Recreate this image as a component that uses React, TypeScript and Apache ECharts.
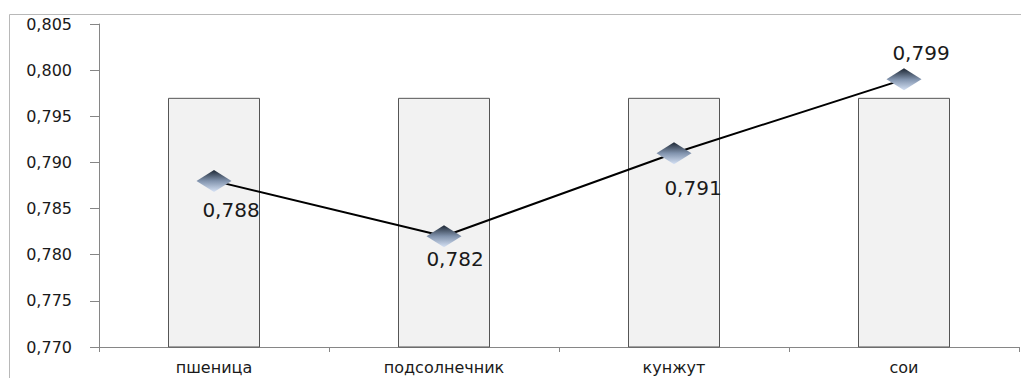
import React, { useEffect, useRef } from "react";
import * as echarts from "echarts";

const categories = ["пшеница", "подсолнечник", "кунжут", "сои"];
const barValues = [0.797, 0.797, 0.797, 0.797];
const lineValues = [0.788, 0.782, 0.791, 0.799];
const yMin = 0.77;
const yMax = 0.805;
const yStep = 0.005;

const labelPos = ["bottom", "bottom", "bottom", "top"];
const labelOffsets = [[17, 3], [11, -3], [19, 9], [17, 0]];

const fmt = (v: number) => v.toFixed(3).replace(".", ",");

export default function App() {
  const ref = useRef<HTMLDivElement>(null);
  useEffect(() => {
    if (!ref.current) return;
    const chart = echarts.init(ref.current, undefined, { renderer: "svg" });
    const font = "DejaVu Sans";
    chart.setOption({
      animation: false,
      backgroundColor: "#ffffff",
      grid: { left: 99, right: 2, top: 24, bottom: 31, containLabel: false },
      graphic: [
        {
          type: "rect",
          shape: { x: 9.5, y: 14.5, width: 1100, height: 500 },
          style: { fill: "none", stroke: "#b8b8b8", lineWidth: 1 },
          silent: true,
          z: -10,
        },
      ],
      xAxis: {
        type: "category",
        data: categories,
        boundaryGap: true,
        axisLine: { lineStyle: { color: "#868686", width: 1 } },
        axisTick: { show: true, length: 5, lineStyle: { color: "#868686" } },
        axisLabel: { color: "#1a1a1a", fontFamily: font, fontSize: 16, margin: 12 },
        splitLine: { show: false },
      },
      yAxis: {
        type: "value",
        min: yMin,
        max: yMax,
        interval: yStep,
        axisLine: { show: true, lineStyle: { color: "#868686", width: 1 } },
        axisTick: { show: true, length: 9, lineStyle: { color: "#868686" } },
        axisLabel: {
          color: "#1a1a1a",
          fontFamily: font,
          fontSize: 16,
          margin: 27,
          formatter: (v: number) => fmt(v),
        },
        splitLine: { show: false },
      },
      series: [
        {
          type: "bar",
          data: barValues,
          barWidth: "40%",
          itemStyle: { color: "#f2f2f2", borderColor: "#555555", borderWidth: 1 },
          z: 1,
        },
        {
          type: "line",
          data: lineValues.map((v, i) => ({
            value: v,
            label: { position: labelPos[i], offset: labelOffsets[i] },
          })),
          lineStyle: { color: "#000000", width: 2 },
          symbol: "diamond",
          symbolSize: [35, 22],
          itemStyle: {
            color: new echarts.graphic.LinearGradient(0, 0, 0, 1, [
              { offset: 0, color: "#1c2633" },
              { offset: 0.5, color: "#8193ad" },
              { offset: 1, color: "#d6e2f5" },
            ]),
            borderWidth: 0,
          },
          label: {
            show: true,
            distance: 5,
            color: "#1a1a1a",
            fontFamily: font,
            fontSize: 20,
            formatter: (p: any) => fmt(p.value),
          },
          z: 3,
        },
      ],
    });
    return () => chart.dispose();
  }, []);
  return (
    <div
      ref={ref}
      style={{ position: "fixed", left: 0, top: 0, width: 1021, height: 378 }}
    />
  );
}
